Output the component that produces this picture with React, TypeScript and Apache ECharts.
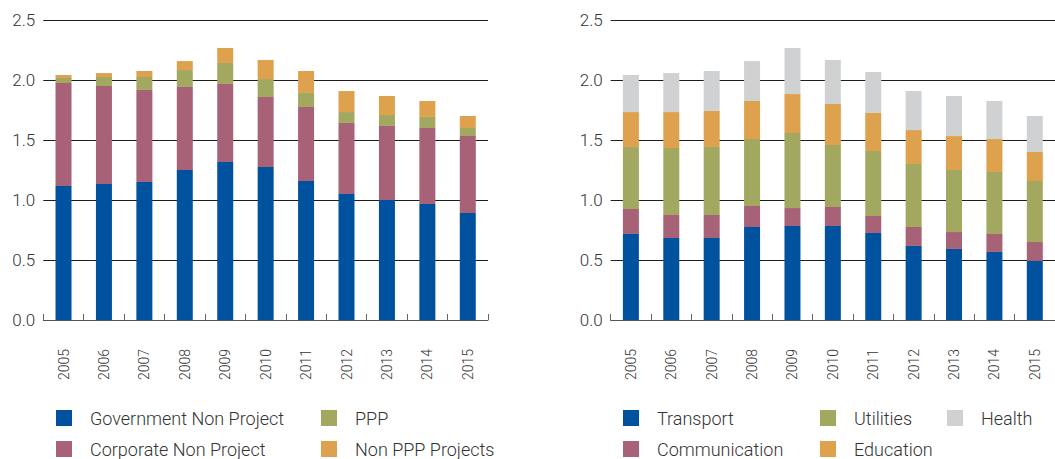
import React, { useEffect, useRef } from "react";
import * as echarts from "echarts";

const years = ["2005", "2006", "2007", "2008", "2009", "2010", "2011", "2012", "2013", "2014", "2015"];
const yTicks = [0, 0.5, 1.0, 1.5, 2.0, 2.5];

// Left chart
const governmentNonProject = [1.117, 1.133, 1.15, 1.25, 1.317, 1.275, 1.158, 1.05, 1.0, 0.967, 0.892];
const corporateNonProject = [0.858, 0.817, 0.767, 0.692, 0.65, 0.583, 0.617, 0.592, 0.617, 0.633, 0.641];
const ppp = [0.042, 0.075, 0.108, 0.141, 0.175, 0.15, 0.117, 0.091, 0.091, 0.092, 0.067];
const nonPppProjects = [0.025, 0.033, 0.05, 0.075, 0.125, 0.159, 0.183, 0.175, 0.159, 0.133, 0.1];

// Right chart
const transport = [0.717, 0.683, 0.683, 0.775, 0.783, 0.783, 0.725, 0.617, 0.592, 0.567, 0.492];
const communication = [0.208, 0.192, 0.192, 0.175, 0.15, 0.159, 0.142, 0.158, 0.141, 0.15, 0.158];
const utilities = [0.517, 0.558, 0.567, 0.558, 0.625, 0.516, 0.541, 0.525, 0.517, 0.516, 0.508];
const education = [0.291, 0.3, 0.3, 0.317, 0.325, 0.342, 0.317, 0.283, 0.283, 0.275, 0.242];
const health = [0.309, 0.325, 0.333, 0.333, 0.384, 0.367, 0.342, 0.325, 0.334, 0.317, 0.3];

const BLUE = "#00529F";
const MAUVE = "#A76278";
const GREEN = "#A2A860";
const ORANGE = "#DEA24F";
const GREY = "#D0D1D3";

const FONT = "Roboto, 'Noto Sans', sans-serif";
const TEXT = "#333333";

export default function App() {
  const ref = useRef<HTMLDivElement>(null);
  useEffect(() => {
    if (!ref.current) return;
    const chart = echarts.init(ref.current, null, { renderer: "svg" });

    const grids = [
      { left: 43.3, top: 20, width: 444.7, height: 300 },
      { left: 610.7, top: 20, width: 448.8, height: 300 },
    ];

    const xAxis = [0, 1].map((i) => ({
      type: "category",
      gridIndex: i,
      data: years,
      boundaryGap: true,
      axisLine: { show: true, lineStyle: { color: "#555", width: 1 } },
      axisTick: { show: true, inside: true, length: 6, lineStyle: { color: "#666" } },
      axisLabel: {
        rotate: 90,
        margin: 29,
        fontSize: 14,
        fontWeight: 300,
        fontFamily: FONT,
        color: TEXT,
      },
    }));

    const yAxis = [0, 1].map((i) => ({
      type: "value",
      gridIndex: i,
      min: 0,
      max: 2.5,
      interval: 0.5,
      axisLine: { show: false },
      axisTick: { show: false },
      splitLine: { show: true, lineStyle: { color: "#1e1e1e", width: 1 } },
      axisLabel: {
        margin: 8,
        fontSize: 17,
        fontWeight: 300,
        fontFamily: FONT,
        color: TEXT,
        formatter: (v: number) => (yTicks.includes(v) ? v.toFixed(1) : ""),
      },
    }));

    const bar = (name: string, data: number[], color: string, idx: number) => ({
      name,
      type: "bar",
      xAxisIndex: idx,
      yAxisIndex: idx,
      stack: idx === 0 ? "left" : "right",
      barWidth: 16,
      data,
      itemStyle: { color },
    });

    const series = [
      bar("Government Non Project", governmentNonProject, BLUE, 0),
      bar("Corporate Non Project", corporateNonProject, MAUVE, 0),
      bar("PPP", ppp, GREEN, 0),
      bar("Non PPP Projects", nonPppProjects, ORANGE, 0),
      bar("Transport", transport, BLUE, 1),
      bar("Communication", communication, MAUVE, 1),
      bar("Utilities", utilities, GREEN, 1),
      bar("Education", education, ORANGE, 1),
      bar("Health", health, GREY, 1),
    ];

    const legendItems: [string, number, number][] = [
      ["Government Non Project", 56, 408],
      ["Corporate Non Project", 56, 439],
      ["PPP", 321, 408],
      ["Non PPP Projects", 321, 439],
      ["Transport", 623, 408],
      ["Communication", 623, 439],
      ["Utilities", 820, 408],
      ["Education", 820, 439],
      ["Health", 947, 408],
    ];

    const legend = legendItems.map(([name, left, top]) => ({
      data: [name],
      left,
      top,
      padding: 0,
      icon: "rect",
      itemWidth: 16,
      itemHeight: 16,
      selectedMode: false,
      textStyle: {
        fontSize: 18,
        fontWeight: 300,
        fontFamily: FONT,
        color: TEXT,
        lineHeight: 16,
        padding: [4, 0, 0, 13],
      },
    }));

    chart.setOption({
      animation: false,
      backgroundColor: "#ffffff",
      grid: grids,
      xAxis,
      yAxis,
      legend,
      series,
    });

    return () => chart.dispose();
  }, []);

  return (
    <div
      ref={ref}
      style={{ position: "fixed", left: 0, top: 0, width: 1055, height: 459 }}
    />
  );
}
